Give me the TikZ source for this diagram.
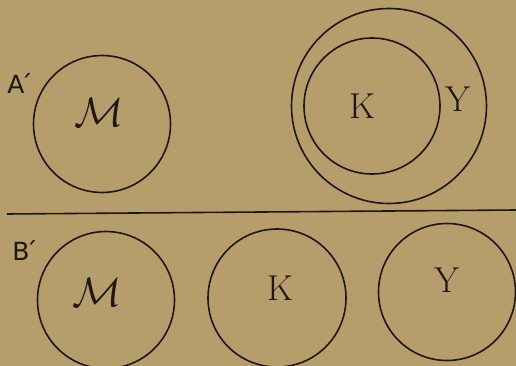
\documentclass[tikz,border=0pt]{standalone}
\usepackage{fontspec}
\usepackage{tikz}
\usetikzlibrary{positioning}
\newfontfamily\tagfont{DejaVu Sans}
\definecolor{paper}{HTML}{B69D6C}
\definecolor{ink}{HTML}{1E1712}
\newcommand{\scriptM}{\scalebox{4.1}{$\mathcal{M}$}}

\begin{document}
\begin{tikzpicture}[x=1pt,y=-1pt,
      ring/.style={draw=ink,line width=1.6pt,circle,inner sep=0pt},
      letter/.style={text=ink,font=\fontsize{36}{40}\selectfont},
      scriptm/.style={text=ink},
      tag/.style={text=ink,font=\tagfont\fontsize{25}{28}\selectfont}]
      \fill[paper] (0,0) rectangle (516,366);
      \useasboundingbox (0,0) rectangle (516,366);
      % upper row
      \node[ring,minimum size=137pt] (mA) at (102,124) {};
      \node[ring,minimum size=195pt] (yA) at (389,106) {};
      \node[ring,minimum size=136pt] (kA) at (372,106) {};
      \node[scriptm] (mlA) at (99,112) {\scriptM};
      \node[letter] (klA) at (362,106) {K};
      \node[letter] (ylA) at (458,99) {Y};
      \node[tag] (tA) at (20,84) {A\'{}};
      % divider
      \coordinate (lineL) at (7,214);
      \coordinate (lineR) at (516,210);
      \draw[ink,line width=1.6pt] (lineL)--(lineR);
      % lower row
      \node[ring,minimum size=137pt] (mB) at (106,300) {};
      \node[ring,minimum size=138pt] (kB) at (277,298) {};
      \node[ring,minimum size=137pt] (yB) at (447,292) {};
      \node[scriptm] (mlB) at (97,292) {\scriptM};
      \node[letter] (klB) at (280,288) {K};
      \node[letter] (ylB) at (447,280) {Y};
      \node[tag] (tB) at (25,251) {B\'{}};
    \end{tikzpicture}
\end{document}
